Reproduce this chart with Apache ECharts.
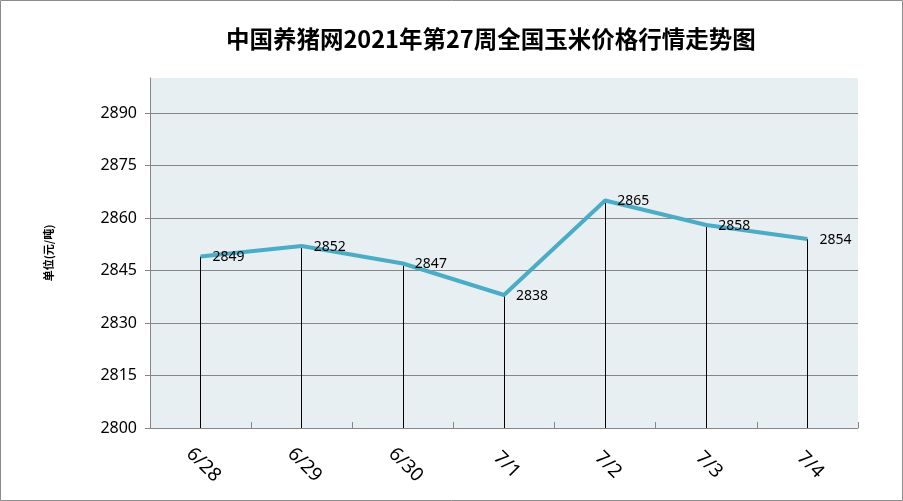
<!DOCTYPE html>
<html>
<head>
<meta charset="utf-8">
<script src="https://cdn.jsdelivr.net/npm/echarts@6/dist/echarts.min.js"></script>
<style>
html, body { margin: 0; padding: 0; background: #fff; }
#main { width: 903px; height: 501px; }
</style>
</head>
<body>
<div id="main"></div>
<script>
// data
const days = ["6/28", "6/29", "6/30", "7/1", "7/2", "7/3", "7/4"];
const prices = [2849, 2852, 2847, 2838, 2865, 2858, 2854];
const yMin = 2800;
const yMax = 2900;
const yStep = 15;

const chart = echarts.init(document.getElementById("main"));

// vertical drop lines from each point down to the axis
const drops = prices.map(function (v, i) {
    return [{ coord: [i, v] }, { coord: [i, yMin] }];
});

chart.setOption({
    animation: false,
    backgroundColor: "#fff",
    title: {
        text: "中国养猪网2021年第27周全国玉米价格行情走势图",
        left: 221,
        top: 22,
        textStyle: {
            fontFamily: "Noto Sans CJK SC",
            fontWeight: "bold",
            fontSize: 23.5,
            color: "#000"
        }
    },
    graphic: [
        {
            type: "rect",
            shape: { x: 0.5, y: 0.5, width: 902, height: 500 },
            style: { fill: "none", stroke: "#8c8c8c", lineWidth: 1 },
            silent: true
        }
    ],
    grid: {
        show: true,
        left: 150,
        right: 45,
        top: 78,
        bottom: 73,
        backgroundColor: "#e8eff3",
        borderWidth: 0
    },
    xAxis: {
        type: "category",
        data: days,
        boundaryGap: true,
        axisLine: { show: true, lineStyle: { color: "#868686", width: 1 } },
        axisTick: { show: true, inside: true, length: 6, lineStyle: { color: "#868686" } },
        axisLabel: {
            rotate: -45,
            margin: 34,
            align: "center",
            verticalAlign: "middle",
            padding: [0, 0, 0, 8],
            fontFamily: "Noto Sans",
            fontSize: 19,
            color: "#000"
        },
        splitLine: { show: false }
    },
    yAxis: {
        type: "value",
        min: yMin,
        max: yMax,
        interval: yStep,
        name: "单位(元/吨)",
        nameLocation: "middle",
        nameRotate: 90,
        nameGap: 96,
        nameTextStyle: {
            fontFamily: "Noto Sans CJK SC",
            fontWeight: "bold",
            fontSize: 11,
            color: "#000"
        },
        axisLine: { show: true, lineStyle: { color: "#868686", width: 1 } },
        axisTick: { show: true, length: 5, lineStyle: { color: "#868686" } },
        axisLabel: {
            showMaxLabel: false,
            margin: 13,
            formatter: function (v) { return String(v); },
            fontFamily: "Noto Sans",
            fontSize: 16,
            color: "#000"
        },
        splitLine: {
            show: true,
            showMinLine: false,
            showMaxLine: false,
            lineStyle: { color: "#868686", width: 1 }
        }
    },
    series: [
        {
            type: "line",
            data: prices,
            showSymbol: true,
            symbol: "circle",
            symbolSize: 0,
            itemStyle: { color: "#4bacc6" },
            lineStyle: { color: "#4bacc6", width: 4 },
            label: {
                show: true,
                position: "right",
                distance: 12,
                offset: [0, 1],
                fontFamily: "Noto Sans",
                fontSize: 14,
                color: "#000"
            },
            markLine: {
                silent: true,
                symbol: ["none", "none"],
                label: { show: false },
                lineStyle: { color: "#000", width: 1, type: "solid" },
                z: 1,
                data: drops
            },
            z: 3
        }
    ]
});
</script>
</body>
</html>
